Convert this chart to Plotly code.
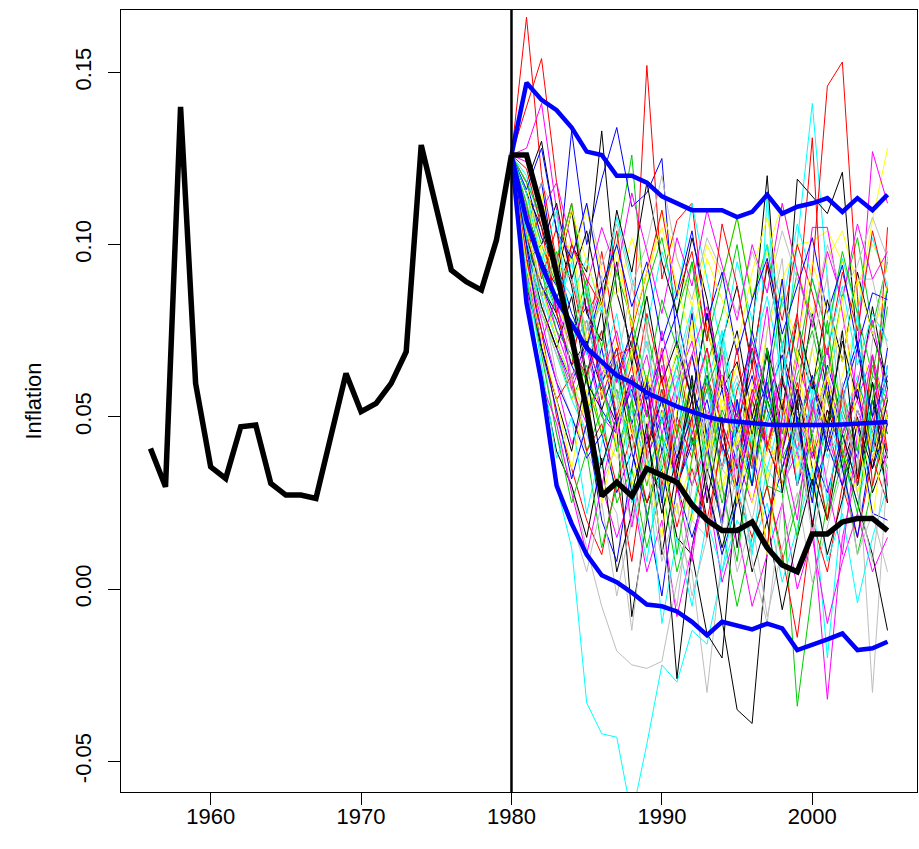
import plotly.graph_objects as go

# ---------------- data ----------------
hist_years = list(range(1956, 1981))
hist_inflation = [0.0408, 0.0297, 0.1400, 0.0597, 0.0355, 0.0321, 0.0471, 0.0476,
                  0.0307, 0.0273, 0.0273, 0.0263, 0.0445, 0.0626, 0.0515, 0.0539,
                  0.0597, 0.0689, 0.1289, 0.1100, 0.0926, 0.0892, 0.0868, 0.1013, 0.1260]

fc_years = list(range(1980, 2006))
actual_inflation = [0.126, 0.126, 0.110, 0.092, 0.073, 0.052, 0.027, 0.031, 0.027, 0.035,
                    0.033, 0.031, 0.0245, 0.020, 0.017, 0.017, 0.0195, 0.012, 0.007, 0.005,
                    0.016, 0.016, 0.0195, 0.0205, 0.0205, 0.017]
upper_band = [0.126, 0.147, 0.142, 0.139, 0.134, 0.127, 0.126, 0.120, 0.120, 0.118,
              0.114, 0.112, 0.110, 0.110, 0.110, 0.108, 0.1095, 0.1145, 0.109, 0.111,
              0.112, 0.1135, 0.1095, 0.1135, 0.110, 0.1145]
mean_path = [0.126, 0.107, 0.094, 0.084, 0.077, 0.070, 0.066, 0.062, 0.060, 0.057,
             0.055, 0.053, 0.0515, 0.050, 0.049, 0.0485, 0.048, 0.0478, 0.0476, 0.0475,
             0.0475, 0.0476, 0.0478, 0.048, 0.0482, 0.0485]
lower_band = [0.126, 0.083, 0.060, 0.030, 0.019, 0.010, 0.004, 0.002, -0.001, -0.0045,
              -0.005, -0.0065, -0.0095, -0.0134, -0.0095, -0.0105, -0.0117, -0.010, -0.0114, -0.0177,
              -0.0163, -0.0146, -0.0129, -0.0177, -0.0172, -0.0153]

# simulated paths, per-mille (1980..2005), grouped by line colour
sims_black = [
    [126,118,130,104,88,62,81,47,-8,20,45,32,60,41,72,88,65,94,70,52,80,58,35,50,28,40],
    [126,110,96,84,100,92,133,86,70,54,28,-26,12,35,20,48,30,55,42,70,58,84,66,92,74,60],
    [126,102,88,80,65,72,58,48,62,40,55,30,44,20,-9,-35,-39,10,60,119,114,109,121,70,45,30],
    [126,100,82,70,85,60,52,66,40,25,35,15,10,-13,-20,30,75,120,60,48,30,52,40,25,10,-12],
    [126,95,100,112,90,104,82,110,92,118,95,80,102,84,60,75,50,68,40,58,35,20,45,30,55,38],
    [126,115,105,90,110,80,72,95,65,85,60,72,55,80,58,66,45,70,52,78,60,48,72,55,82,58],
    [126,88,70,55,40,62,36,50,28,45,22,38,55,30,12,28,5,20,-6,15,32,10,26,48,35,55],
    [126,85,62,40,30,15,38,5,22,48,10,35,62,25,50,12,40,70,28,55,18,45,75,32,60,25],
]
sims_red = [
    [126,166,120,95,112,80,88,60,75,50,68,45,58,40,62,50,35,55,42,60,38,52,45,30,55,40],
    [126,140,154,118,90,70,98,72,55,80,60,45,68,50,35,58,70,42,55,40,62,48,30,52,40,58],
    [126,112,90,105,70,78,60,68,70,152,90,107,112,75,60,48,65,40,55,30,52,70,45,58,38,50],
    [126,104,85,92,70,62,75,50,65,40,58,35,52,70,45,30,55,40,62,80,131,55,38,60,40,105],
    [126,98,110,80,65,88,55,70,45,60,30,50,38,62,48,35,58,42,30,55,92,146,153,85,30,48],
    [126,90,70,55,62,40,48,30,45,25,40,18,35,20,42,28,15,30,10,-14,20,5,30,15,38,25],
    [126,122,105,80,100,90,82,104,75,92,110,85,98,72,106,88,64,95,78,100,86,68,92,75,104,86],
    [126,96,75,50,35,20,10,32,8,40,62,28,50,15,45,70,38,12,50,80,42,20,58,30,68,40],
]
sims_green = [
    [126,108,95,80,98,70,85,100,126,75,55,68,45,60,40,55,35,50,62,45,30,48,58,40,65,50],
    [126,96,80,70,55,65,45,58,40,52,35,48,30,45,25,40,55,30,28,-34,0,25,40,30,55,45],
    [126,115,100,88,75,90,65,55,70,88,102,80,95,72,90,108,84,100,70,92,78,62,85,102,76,95],
    [126,100,88,72,60,40,52,25,35,12,30,5,22,40,18,-5,15,30,8,25,45,20,38,10,30,52],
    [126,105,85,98,72,60,45,62,48,30,50,65,42,58,70,52,40,58,45,62,75,55,42,60,48,35],
    [126,112,92,75,68,52,60,40,55,38,28,45,60,35,52,42,30,55,38,48,60,70,52,40,62,55],
    [126,118,108,96,112,85,70,92,78,60,84,70,95,65,80,100,72,58,85,66,90,74,98,80,62,88],
    [126,90,68,45,25,40,12,30,55,20,45,10,38,65,30,8,42,70,35,15,50,78,40,22,55,82],
]
sims_blue = [
    [126,110,95,88,133,100,119,134,111,115,125,70,55,80,60,45,70,52,40,58,45,65,50,38,60,45],
    [126,98,82,70,60,72,52,45,60,38,50,30,42,55,35,48,62,40,55,30,45,60,38,52,40,65],
    [126,105,118,90,75,82,60,70,48,62,40,55,68,45,58,35,50,42,30,48,62,40,55,70,50,88],
    [126,92,75,60,50,38,45,28,40,22,-2,30,15,30,10,25,40,20,35,50,28,42,30,48,22,20],
    [126,118,102,95,80,70,88,62,75,55,68,80,58,45,62,50,75,55,68,48,60,42,58,72,50,62],
    [126,100,88,78,65,55,70,48,58,42,55,38,50,62,42,30,48,60,35,52,40,28,45,58,35,48],
    [126,116,128,104,96,112,88,100,82,95,72,86,104,78,92,68,84,96,74,88,102,80,94,70,86,84],
    [126,100,70,52,32,48,20,8,35,60,25,50,80,42,18,55,30,62,90,48,25,60,35,15,42,70],
]
sims_cyan = [
    [126,90,60,30,12,-33,-42,-43,-66,-45,-22,-27,-12,-16,5,20,12,35,28,45,30,50,38,25,42,30],
    [126,108,92,80,95,68,75,55,62,45,58,40,52,35,48,60,42,55,60,100,141,90,45,30,48,60],
    [126,112,98,85,70,78,60,52,68,45,55,62,40,50,35,48,30,115,50,40,55,38,48,62,45,55],
    [126,96,85,72,60,50,62,40,52,35,45,30,48,58,40,28,45,35,52,40,30,-20,25,42,55,38],
    [126,120,105,92,85,96,80,108,90,76,98,84,112,90,70,95,78,100,82,106,90,74,96,80,102,88],
    [126,102,80,68,55,45,35,50,25,40,-10,15,-5,20,5,30,12,25,2,18,35,8,22,-4,15,30],
    [126,115,95,110,70,88,65,80,55,72,48,65,82,60,75,52,68,85,62,78,55,70,88,65,80,72],
    [126,92,65,38,50,22,42,65,30,8,38,60,22,45,75,38,10,48,72,30,58,25,52,80,40,65],
]
sims_magenta = [
    [126,128,141,110,90,75,88,60,72,50,65,40,55,70,48,35,55,42,60,50,38,62,45,55,40,50],
    [126,104,88,75,62,70,50,45,60,38,52,30,45,58,40,55,35,48,62,40,52,45,30,70,127,112],
    [126,98,82,70,58,48,62,40,52,35,28,45,30,42,20,38,25,45,30,40,20,-32,15,35,50,40],
    [126,110,95,82,70,85,62,75,55,68,45,60,72,50,62,40,55,68,45,70,105,105,80,55,68,50],
    [126,95,78,60,42,55,30,15,28,5,20,-8,12,30,2,18,-5,10,25,0,15,-10,8,22,5,15],
    [126,124,110,118,100,88,105,92,115,98,80,102,88,110,94,78,100,86,112,92,76,98,84,106,90,98],
    [126,92,72,85,58,70,60,45,62,50,75,55,68,82,60,50,72,58,40,66,52,70,45,60,78,55],
    [126,88,60,48,28,10,30,50,18,45,70,30,8,42,68,25,55,82,40,20,55,30,10,45,68,30],
]
sims_yellow = [
    [126,108,92,80,70,78,60,72,55,48,62,45,58,40,52,65,48,75,90,100,101,104,95,82,107,128],
    [126,100,115,88,96,110,92,85,102,88,110,96,82,100,90,108,85,98,112,92,80,96,104,88,100,92],
    [126,95,82,68,55,62,45,38,52,30,45,35,20,40,28,45,55,32,48,38,25,42,55,35,48,30],
    [126,112,98,90,102,72,85,62,75,58,70,55,68,78,52,65,48,60,42,55,70,48,62,78,55,68],
    [126,104,88,72,60,50,58,42,30,48,35,22,38,50,30,45,25,40,55,35,50,62,40,28,45,55],
    [126,118,95,85,70,88,65,55,45,62,50,70,48,35,55,42,60,45,30,52,40,58,45,60,38,50],
    [126,85,100,92,110,95,82,98,76,92,105,88,72,96,84,70,92,108,85,72,95,80,66,90,74,88],
    [126,94,72,55,35,58,25,45,70,35,15,52,78,40,62,25,48,10,42,70,32,58,85,45,20,52],
]
sims_gray = [
    [126,95,70,45,30,12,-5,-18,-22,-23,-21,2,20,15,35,28,45,30,50,38,55,42,30,48,40,55],
    [126,100,85,62,50,40,30,22,-12,25,40,15,5,-30,10,35,20,42,30,48,60,45,38,52,40,48],
    [126,108,92,85,72,60,75,55,68,45,55,40,62,48,35,50,42,58,40,55,45,62,50,40,-30,35],
    [126,115,102,95,90,75,82,65,88,70,60,75,55,68,50,62,45,58,70,55,48,62,75,90,90,70],
    [126,104,118,108,96,112,94,106,88,100,120,96,84,102,92,80,98,86,104,90,78,100,86,94,108,96],
    [126,98,80,68,58,45,30,42,18,35,8,25,-2,15,30,5,20,-8,12,28,2,18,35,10,22,5],
    [126,110,85,97,60,75,91,55,39,77,26,60,81,31,70,43,36,75,96,43,70,91,55,35,72,96],
    [126,84,58,32,20,5,25,-2,20,42,12,-5,30,52,18,40,8,-10,25,48,15,35,60,28,8,40],
]

x_ticks = [1960, 1970, 1980, 1990, 2000]
y_ticks = [-0.05, 0.00, 0.05, 0.10, 0.15]
y_ticktext = ["-0.05", "0.00", "0.05", "0.10", "0.15"]
forecast_start = 1980

# ---------------- figure ----------------
sim_groups = [
    (sims_black, "#000000"), (sims_red, "#FF0000"), (sims_green, "#00CD00"),
    (sims_blue, "#0000FF"), (sims_cyan, "#00FFFF"), (sims_magenta, "#FF00FF"),
    (sims_yellow, "#FFFF00"), (sims_gray, "#BEBEBE"),
]

fig = go.Figure()
n_per = len(sims_black)
for j in range(n_per):
    for paths, col in sim_groups:
        p = paths[j]
        fig.add_trace(go.Scatter(
            x=fc_years[:len(p)], y=[v / 1000 for v in p], mode="lines",
            line=dict(color=col, width=1), hoverinfo="skip", showlegend=False))

for band in (upper_band, mean_path, lower_band):
    fig.add_trace(go.Scatter(x=fc_years, y=band, mode="lines",
                             line=dict(color="#0000FF", width=4.5),
                             hoverinfo="skip", showlegend=False))

fig.add_trace(go.Scatter(x=fc_years, y=actual_inflation, mode="lines",
                         line=dict(color="black", width=5.5), showlegend=False))
fig.add_trace(go.Scatter(x=hist_years, y=hist_inflation, mode="lines",
                         line=dict(color="black", width=5.5), showlegend=False))

fig.add_vline(x=forecast_start, line_color="black", line_width=2.5)

font_family = "Liberation Sans, Arial, Helvetica, sans-serif"
fig.update_layout(
    width=919, height=849,
    margin=dict(l=121, r=2, t=10, b=57),
    plot_bgcolor="white", paper_bgcolor="white",
    showlegend=False,
    font=dict(family=font_family, size=22, color="black"),
)
fig.update_xaxes(
    range=[1954.04, 2006.96], tickmode="array", tickvals=x_ticks,
    ticks="outside", ticklen=12, tickwidth=1, tickcolor="black",
    ticklabelstandoff=-7,
    showline=True, linecolor="black", linewidth=1, mirror=True,
    showgrid=False, zeroline=False,
    tickfont=dict(family=font_family, size=22, color="black"),
)
fig.update_yaxes(
    range=[-0.0589, 0.1681], tickmode="array", tickvals=y_ticks, ticktext=y_ticktext,
    tickangle=-90, ticklabelstandoff=8,
    ticks="outside", ticklen=12, tickwidth=1, tickcolor="black",
    showline=True, linecolor="black", linewidth=1, mirror=True,
    showgrid=False, zeroline=False,
    tickfont=dict(family=font_family, size=22, color="black"),
    title=dict(text="Inflation", font=dict(family=font_family, size=22, color="black"),
               standoff=23),
)

fig.write_html("out.html", config={"displayModeBar": False},
               post_script="document.body.style.margin='0px';")
